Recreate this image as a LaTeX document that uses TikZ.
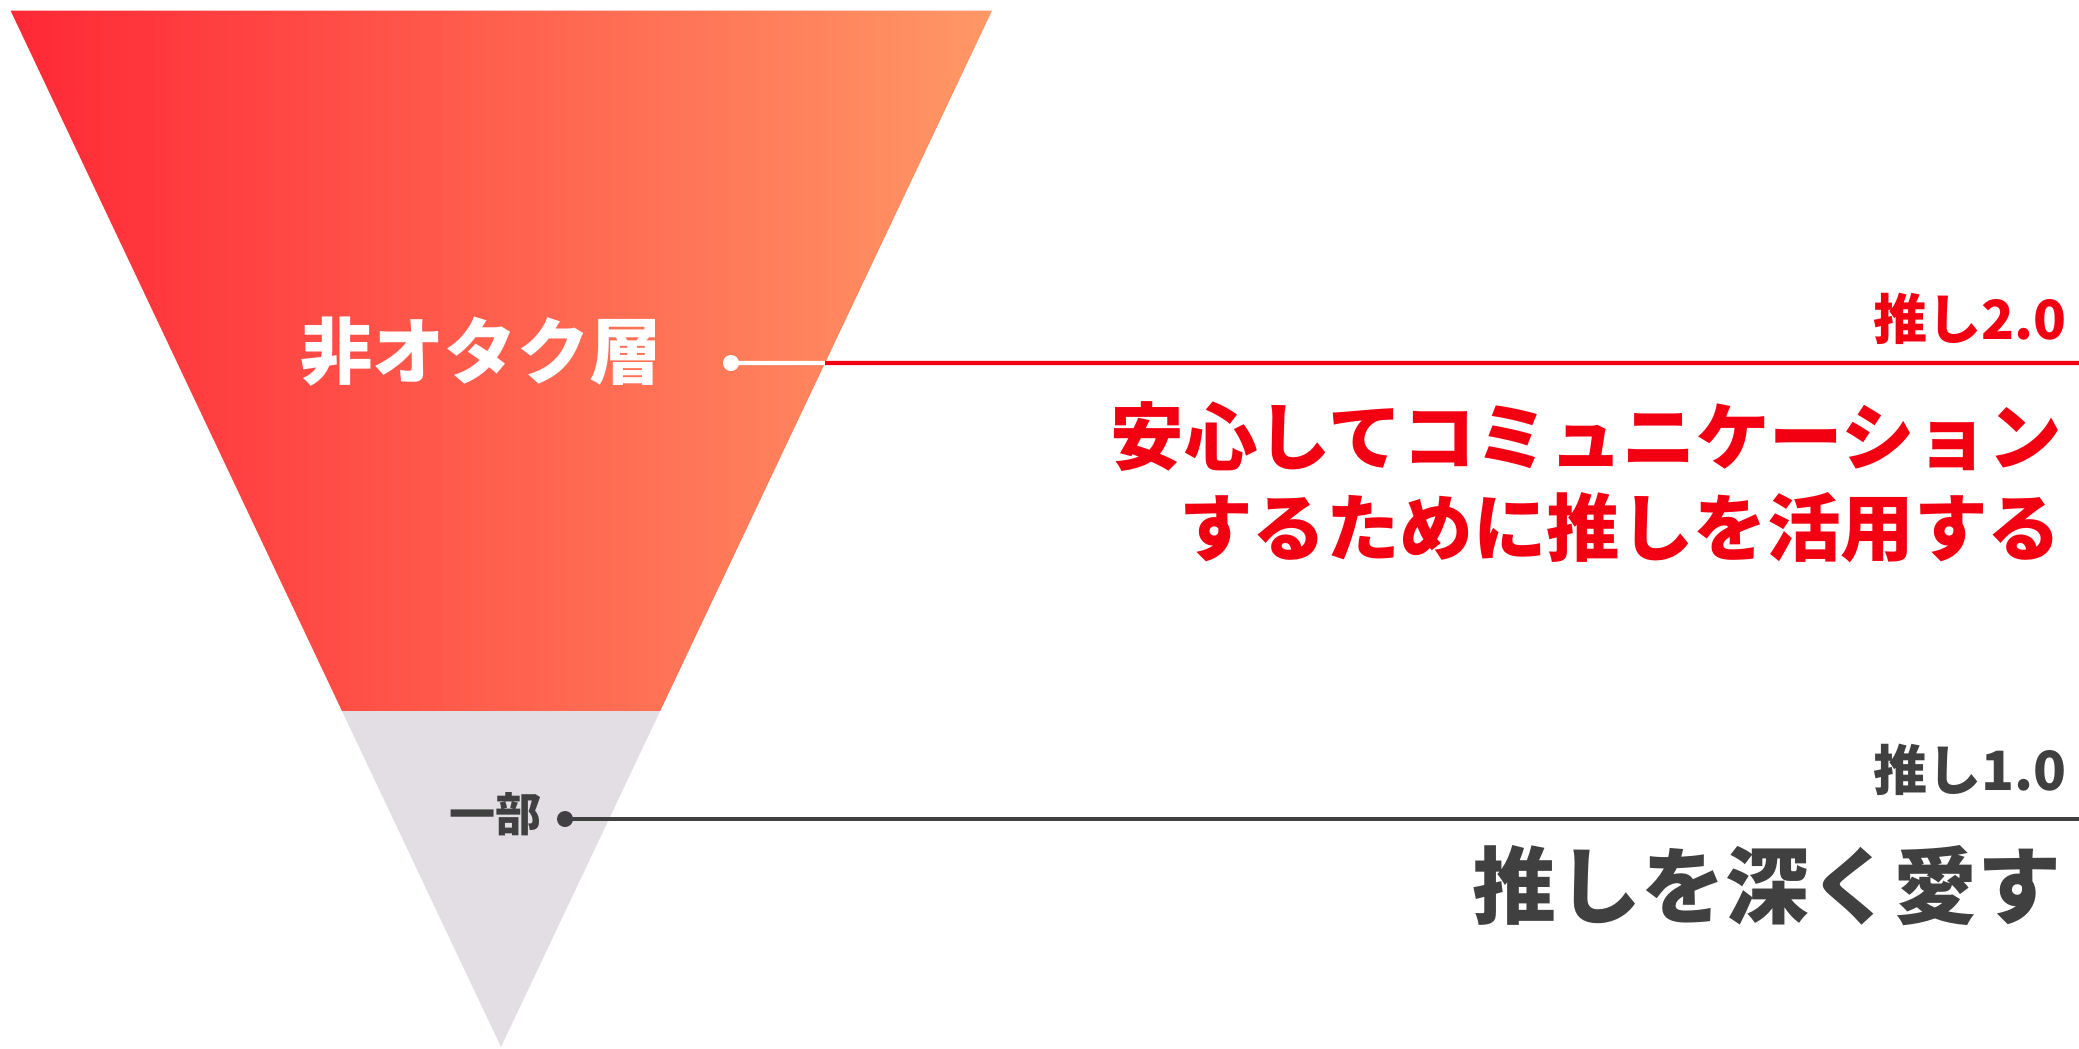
\documentclass[tikz,border=0pt]{standalone}
\usepackage{fontspec}
\newfontfamily\jp{Noto Sans CJK JP}
\usetikzlibrary{calc}
\definecolor{ored}{RGB}{242,0,18}
\definecolor{ogray}{RGB}{64,64,64}
\definecolor{tgray}{RGB}{226,222,228}
\definecolor{gleft}{RGB}{255,40,54}
\definecolor{gright}{RGB}{255,152,102}
\tikzset{
  lbl/.style={inner sep=0pt, anchor=east},
  dotmark/.style={circle, inner sep=0pt, minimum size=0.16cm},
  leader/.style={line width=1.15pt},
}
\begin{document}
\begin{tikzpicture}[x=0.01cm,y=-0.01cm]
\useasboundingbox (0,0) rectangle (2079,1048);
\coordinate (TL) at (10.6,10.6);
\coordinate (TR) at (992,10.6);
\coordinate (AP) at (501,1047);
\coordinate (CL) at ($(TL)!0.6758!(AP)$);
\coordinate (CR) at ($(TR)!0.6758!(AP)$);
\shade[left color=gleft, right color=gright] (TL) -- (TR) -- (CR) -- (CL) -- cycle;
\fill[tgray] (CL) -- (CR) -- (AP) -- cycle;

% upper label and leader
\node[lbl, text=white, font=\jp\bfseries\fontsize{20.6pt}{24pt}\selectfont] (nonotaku) at (663,352) {非オタク層};
\node[dotmark, fill=white] (dot1) at (731,363) {};
\coordinate (E1) at ($(TR)!0.34!(AP)$);
\coordinate (R1) at (2079,363);
\draw[leader, white] (dot1.center) -- (E1);
\draw[leader, ored] (E1) -- (R1);

\node[lbl, text=ored, font=\jp\bfseries\fontsize{15.4pt}{18pt}\selectfont] (oshi2) at (2067,319) {推し2.0};
\node[lbl, text=ored, font=\jp\bfseries\fontsize{20.9pt}{25pt}\selectfont] (l1) at (2063,437) {安心してコミュニケーション};
\node[lbl, text=ored, font=\jp\bfseries\fontsize{20.9pt}{25pt}\selectfont] (l2) at (2062,528) {するために推しを活用する};

% lower label and leader
\node[lbl, text=ogray, font=\jp\bfseries\fontsize{13.1pt}{16pt}\selectfont] (ichibu) at (542,814) {一部};
\node[dotmark, fill=ogray] (dot2) at (565,819) {};
\coordinate (R2) at (2079,819);
\draw[leader, ogray] (dot2.center) -- (R2);

\node[lbl, text=ogray, font=\jp\bfseries\fontsize{15.4pt}{18pt}\selectfont] (oshi1) at (2067,770) {推し1.0};
\node[lbl, text=ogray, font=\jp\bfseries\fontsize{23.9pt}{28pt}\selectfont] (l3) at (2062,886) {推しを深く愛す};
\end{tikzpicture}
\end{document}
